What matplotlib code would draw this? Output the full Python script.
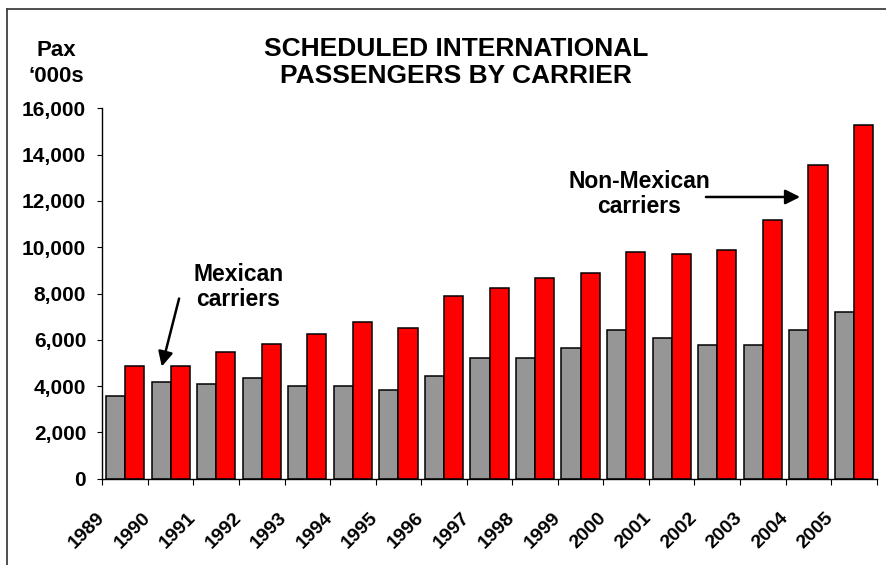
import numpy as np
import matplotlib
matplotlib.use("Agg")
import matplotlib.pyplot as plt
from matplotlib.lines import Line2D
from matplotlib.transforms import ScaledTranslation

plt.rcParams["font.family"] = ["Liberation Sans", "DejaVu Sans"]
plt.rcParams["font.weight"] = "bold"

years = [str(y) for y in range(1989, 2006)]
mexican = [3570, 4170, 4090, 4330, 4000, 4000, 3840, 4420, 5230,
           5230, 5630, 6410, 6080, 5790, 5790, 6410, 7220]
non_mexican = [4870, 4870, 5490, 5810, 6250, 6770, 6500, 7910, 8230,
               8690, 8870, 9790, 9700, 9880, 11180, 13530, 15260]
yticks = list(range(0, 16001, 2000))

fig = plt.figure(figsize=(8.86, 5.65), dpi=100)
ax = fig.add_axes([0.1155, 0.1527, 0.874, 0.6556])

x = np.arange(len(years))
w = 0.42
ax.bar(x - w / 2, mexican, w, color="#969696", edgecolor="black", linewidth=1.1)
ax.bar(x + w / 2, non_mexican, w, color="#ff0000", edgecolor="black", linewidth=1.1)

ax.set_xlim(-0.5, len(years) - 0.5)
ax.set_ylim(0, 16000)
ax.spines["top"].set_visible(False)
ax.spines["right"].set_visible(False)
ax.spines["left"].set_linewidth(1.0)
ax.spines["bottom"].set_linewidth(1.0)

ax.set_yticks(yticks, [f"{v:,}" for v in yticks])
ax.tick_params(axis="y", length=3.6, width=0.8, pad=8, labelsize=15)

# year labels sit at the category boundaries, like the Excel original
ax.set_xticks(np.arange(len(years) + 1) - 0.5, years + [""])
ax.tick_params(axis="x", length=4.3, width=0.8, pad=18, labelsize=14)
shift = ScaledTranslation(6 / 100, 0, fig.dpi_scale_trans)
for lab in ax.get_xticklabels():
    lab.set_rotation(45)
    lab.set_ha("right")
    lab.set_va("top")
    lab.set_transform(lab.get_transform() + shift)

fig.text(0.515, 0.890, "SCHEDULED INTERNATIONAL\nPASSENGERS BY CARRIER",
         ha="center", va="center", fontsize=19, fontweight="bold", linespacing=1.15)
fig.text(0.0632, 0.888, "Pax\n\u2018000s", ha="center", va="center",
         fontsize=16, fontweight="bold", linespacing=1.3)

ax.text(2.48, 8281, "Mexican\ncarriers", ha="center", va="center",
        fontsize=16.5, fontweight="bold", linespacing=1.1)
ax.annotate("", xy=(0.79, 4730), xytext=(1.2, 7900),
            arrowprops=dict(arrowstyle="-|>", color="black", lw=1.8, mutation_scale=22))

ax.text(11.28, 12300, "Non-Mexican\ncarriers", ha="center", va="center",
        fontsize=16.5, fontweight="bold", linespacing=1.1)
ax.annotate("", xy=(14.88, 12170), xytext=(12.69, 12170),
            arrowprops=dict(arrowstyle="-|>", color="black", lw=1.8, mutation_scale=22))

# outer frame (top and left edges only are visible in the original)
fx = 7 / 886
fy = 1 - 9 / 565
fig.add_artist(Line2D([fx, 1], [fy, fy], color="#404040", lw=1.3))
fig.add_artist(Line2D([fx, fx], [0, fy], color="#404040", lw=1.3))

fig.savefig("out.png", dpi=100)
